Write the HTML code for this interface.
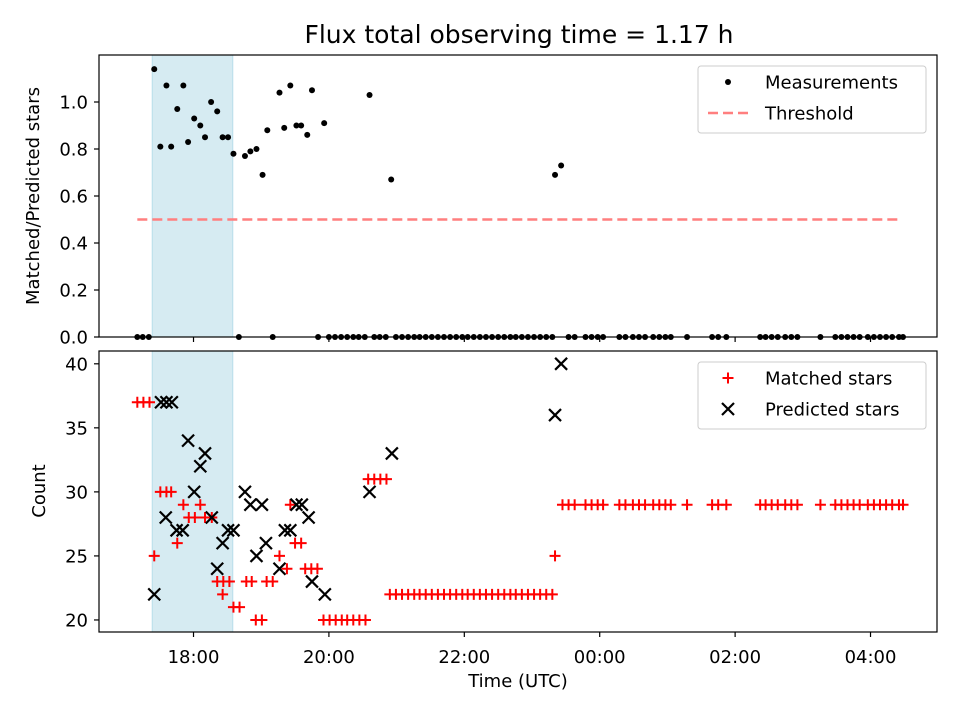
<!DOCTYPE html>
<html><head><meta charset="utf-8"><style>
body{margin:0;background:#fff;}
svg{display:block;font-family:"DejaVu Sans","Liberation Sans",sans-serif;}
</style></head><body>
<svg id="chart" width="960" height="720" viewBox="0 0 960 720" xmlns="http://www.w3.org/2000/svg">
<rect width="960" height="720" fill="#fff"/>
<text x="519" y="43" text-anchor="middle" font-size="25">Flux total observing time = 1.17 h</text>
<text transform="translate(39,196) rotate(-90)" text-anchor="middle" font-size="18">Matched/Predicted stars</text>
<text transform="translate(45,491) rotate(-90)" text-anchor="middle" font-size="18">Count</text>
<text x="518" y="687" text-anchor="middle" font-size="18">Time (UTC)</text>
<g id="top"></g><g id="bot"></g>
</svg>
<script>
// ---- data ----
const spanStart = 17.39, spanEnd = 18.58;
const threshold = 0.5, thresholdStart = 17.17, thresholdEnd = 28.4;
const ratioTimes = [17.42,17.51,17.60,17.67,17.76,17.85,17.92,18.01,18.10,18.17,18.26,18.35,18.43,18.51,18.59,18.76,18.84,18.93,19.02,19.09,19.27,19.34,19.43,19.52,19.59,19.68,19.75,19.93,20.60,20.92,23.34,23.43];
const ratioValues = [1.14,0.81,1.07,0.81,0.97,1.07,0.83,0.93,0.90,0.85,1.00,0.96,0.85,0.85,0.78,0.77,0.79,0.80,0.69,0.88,1.04,0.89,1.07,0.90,0.90,0.86,1.05,0.91,1.03,0.67,0.69,0.73];
const zeroRatioTimes = [17.17,17.25,17.34,18.67,19.17,19.84,20.00,20.09,20.18,20.27,20.36,20.44,20.53,20.67,20.75,20.84,
20.99,21.08,21.17,21.26,21.34,21.43,21.52,21.61,21.70,21.79,21.88,21.97,22.05,22.14,22.23,22.32,22.41,22.50,22.59,22.68,22.76,22.85,22.94,23.03,23.12,23.21,23.30,
23.54,23.63,23.79,23.88,23.97,24.05,24.29,24.38,24.49,24.58,24.67,24.79,24.88,24.97,25.05,25.29,25.66,25.75,25.87,26.37,26.45,26.54,26.63,26.74,26.83,26.92,27.26,27.48,27.57,27.66,27.75,27.84,27.96,28.05,28.14,28.23,28.32,28.42,28.48];
const matchedTimes = [17.17,17.26,17.35,17.42,17.51,17.60,17.67,17.76,17.85,17.93,18.02,18.10,18.17,18.27,18.35,18.43,18.44,18.53,18.59,18.68,18.78,18.86,18.92,19.01,19.08,19.17,19.27,19.38,19.43,19.50,19.59,19.65,19.74,19.83,
19.92,20.01,20.10,20.19,20.27,20.36,20.45,20.54,20.58,20.67,20.76,20.85,
20.90,20.99,21.08,21.17,21.26,21.34,21.43,21.52,21.61,21.70,21.79,21.88,21.97,22.05,22.14,22.23,22.32,22.41,22.50,22.59,22.68,22.76,22.85,22.94,23.03,23.12,23.21,23.30,23.34,
23.45,23.54,23.63,23.79,23.88,23.97,24.05,24.29,24.38,24.49,24.58,24.67,24.79,24.88,24.97,25.05,25.29,25.66,25.75,25.87,26.37,26.45,26.54,26.63,26.74,26.83,26.92,27.26,27.48,27.57,27.66,27.75,27.84,27.96,28.05,28.14,28.23,28.32,28.42,28.48];
const matchedValues = [37,37,37,25,30,30,30,26,29,28,28,29,28,28,23,22,23,23,21,21,23,23,20,20,23,23,25,24,29,26,26,24,24,24,
20,20,20,20,20,20,20,20,31,31,31,31,
22,22,22,22,22,22,22,22,22,22,22,22,22,22,22,22,22,22,22,22,22,22,22,22,22,22,22,22,25,
29,29,29,29,29,29,29,29,29,29,29,29,29,29,29,29,29,29,29,29,29,29,29,29,29,29,29,29,29,29,29,29,29,29,29,29,29,29,29,29];
const predictedTimes = [17.52,17.60,17.68,17.42,17.59,17.75,17.84,17.92,18.01,18.10,18.17,18.27,18.35,18.43,18.51,18.59,18.76,18.84,18.93,19.01,19.07,19.27,19.35,19.43,19.52,19.60,19.70,19.75,19.94,20.60,20.93,23.34,23.43];
const predictedValues = [37,37,37,22,28,27,27,34,30,32,33,28,24,26,27,27,30,29,25,29,26,24,27,27,29,29,28,23,22,30,33,36,40];
const xTickValues = [18,20,22,24,26,28];
const xTickLabels = ["18:00","20:00","22:00","00:00","02:00","04:00"];
const topYTicks = [0,0.2,0.4,0.6,0.8,1.0];
const topYLabels = ["0.0","0.2","0.4","0.6","0.8","1.0"];
const botYTicks = [20,25,30,35,40];

// ---- axes ----
const L=99,R=937;
const x = h => L + (h-16.604)/(28.982-16.604)*(R-L);
const T1=55,B1=337, yTop = v => B1 - v/1.2*(B1-T1);
const T2=351,B2=632, yBot = v => B2 - (v-19.06)/(41.0-19.06)*(B2-T2);
const NS="http://www.w3.org/2000/svg";
function mk(parent,tag,attrs){const e=document.createElementNS(NS,tag);for(const k in attrs)e.setAttribute(k,attrs[k]);parent.appendChild(e);return e;}
const gt=document.getElementById('top'), gb=document.getElementById('bot');
const FS=18;

function panel(g,T,B,yf,ticks,labels,name){
  const sp=mk(g,'rect',{x:x(spanStart),y:T,width:x(spanEnd)-x(spanStart),height:B-T,fill:'rgba(173,216,230,0.5)',stroke:'rgba(173,216,230,0.8)'});
  
  
  ticks.forEach((v,i)=>{
    const yy=yf(v);
    const t=mk(g,'line',{x1:L-5,x2:L,y1:yy,y2:yy,stroke:'#000','stroke-width':1.2});
    
    
    const tl=mk(g,'text',{x:L-11,y:yy+6.5,'text-anchor':'end','font-size':FS});
    tl.textContent=labels[i];
    
    
  });
  xTickValues.forEach((v,i)=>{
    const xx=x(v);
    const t=mk(g,'line',{x1:xx,x2:xx,y1:B,y2:B+5,stroke:'#000','stroke-width':1.2});
    
    
    if(name==='bottom'){
      const tl=mk(g,'text',{x:xx,y:B+31,'text-anchor':'middle','font-size':FS});
      tl.textContent=xTickLabels[i];
      
      
    }
  });
}
panel(gt,T1,B1,yTop,topYTicks,topYLabels,'top');
panel(gb,T2,B2,yBot,botYTicks,botYTicks.map(String),'bottom');

// threshold
const th=mk(gt,'line',{x1:x(thresholdStart),x2:x(thresholdEnd),y1:yTop(threshold),y2:yTop(threshold),stroke:'#ff7f7f','stroke-width':2.5,'stroke-dasharray':'10 5'});



function dot(tv,vv){
  const c=mk(gt,'circle',{cx:x(tv),cy:yTop(vv),r:3,fill:'#000'});
  
  
}
ratioTimes.forEach((t,i)=>dot(t,ratioValues[i]));
zeroRatioTimes.forEach(t=>dot(t,0));

function plus(g,cx,cy,s,col){
  return mk(g,'path',{d:`M${cx-s} ${cy}H${cx+s}M${cx} ${cy-s}V${cy+s}`,stroke:col,'stroke-width':2,fill:'none'});
}
function cross(g,cx,cy,s,col){
  return mk(g,'path',{d:`M${cx-s} ${cy-s}L${cx+s} ${cy+s}M${cx-s} ${cy+s}L${cx+s} ${cy-s}`,stroke:col,'stroke-width':2.2,fill:'none'});
}
matchedTimes.forEach((t,i)=>{
  const p=plus(gb,x(t),yBot(matchedValues[i]),5.5,'#f00');
  
  
});
predictedTimes.forEach((t,i)=>{
  const p=cross(gb,x(t),yBot(predictedValues[i]),6,'#000');
  
  
});

// frames
[[gt,T1,B1,'top'],[gb,T2,B2,'bottom']].forEach(([g,T,B,n])=>{
  const f=mk(g,'rect',{x:L,y:T,width:R-L,height:B-T,fill:'none',stroke:'#000','stroke-width':1.2});
  
  
});

// legends
function legend(g,y0,name,entries){
  const box=mk(g,'rect',{x:698,y:y0,width:228,height:67,rx:3,fill:'rgba(255,255,255,0.8)',stroke:'#ccc'});
  
  
  entries.forEach((e,i)=>{
    const yy=y0+16+i*31;
    let m;
    if(e.k==='dot') m=mk(g,'circle',{cx:728,cy:yy,r:3,fill:'#000'});
    else if(e.k==='dash') m=mk(g,'line',{x1:708,x2:748,y1:yy,y2:yy,stroke:'#ff7f7f','stroke-width':2.5,'stroke-dasharray':'10 5'});
    else if(e.k==='plus') m=plus(g,728,yy,5.5,'#f00');
    else m=cross(g,728,yy,6,'#000');
    
    
    const t=mk(g,'text',{x:765,y:yy+6.5,'font-size':FS});
    t.textContent=e.t;
    
    
  });
}
legend(gt,66,'top-legend',[{k:'dot',t:'Measurements'},{k:'dash',t:'Threshold'}]);
legend(gb,362,'bottom-legend',[{k:'plus',t:'Matched stars'},{k:'cross',t:'Predicted stars'}]);
</script>
</body></html>
